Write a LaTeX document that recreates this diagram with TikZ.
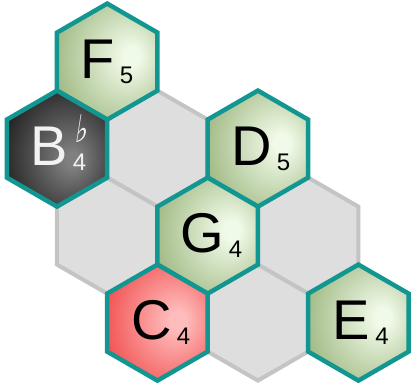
\documentclass[tikz,border=0pt]{standalone}
\usepackage{fontspec}
\setmainfont{Liberation Sans}
\newfontfamily\flatfont[FakeSlant=0.22]{DejaVu Sans}
\usetikzlibrary{shapes.geometric}
\definecolor{tealline}{RGB}{18,150,145}
\definecolor{grayfill}{RGB}{222,222,222}
\definecolor{grayline}{RGB}{196,196,196}
\definecolor{gin}{RGB}{240,250,232}
\definecolor{gout}{RGB}{164,188,136}
\definecolor{din}{RGB}{128,128,128}
\definecolor{dout}{RGB}{34,34,34}
\definecolor{rin}{RGB}{255,188,188}
\definecolor{rout}{RGB}{242,84,84}
\definecolor{lettw}{RGB}{242,242,242}
\pgfdeclareradialshading{greenshade}{\pgfpoint{13bp}{2.5bp}}{color(0bp)=(gin);color(4bp)=(gin);color(32bp)=(gout);color(60bp)=(gout)}
\pgfdeclareradialshading{darkshade}{\pgfpoint{8bp}{-5bp}}{color(0bp)=(din);color(3bp)=(din);color(32bp)=(dout);color(60bp)=(dout)}
\pgfdeclareradialshading{redshade}{\pgfpoint{11bp}{1bp}}{color(0bp)=(rin);color(4bp)=(rin);color(32bp)=(rout);color(60bp)=(rout)}
\newcommand\hexsub[1]{\kern5pt\raisebox{-5pt}{\fontsize{24}{24}\selectfont #1}}
\tikzset{
  hexbase/.style={regular polygon, regular polygon sides=6, shape border rotate=30,
    minimum size=116pt, inner sep=0pt, outer sep=0pt},
  grayhex/.style={hexbase, draw=grayline, fill=grayfill, line width=4pt},
  notehex/.style={hexbase, draw=tealline, line width=4.5pt},
  greenhex/.style={notehex, shading=greenshade},
  darkhex/.style={notehex, shading=darkshade},
  redhex/.style={notehex, shading=redshade},
  notetext/.style={anchor=base west, inner sep=0pt, outer sep=0pt,
    font=\fontsize{56}{56}\selectfont},
}
\begin{document}
\begin{tikzpicture}[x=1pt,y=-1pt]
\useasboundingbox (0,0) rectangle (411,387);
% empty grid cells
\node[grayhex] (g1) at (157.4,148.6) {};
\node[grayhex] (g2) at (107.2,235.6) {};
\node[grayhex] (g3) at (308.1,235.6) {};
\node[grayhex] (g4) at (257.9,322.6) {};
% note cells
\node[greenhex] (F5) at (107.2,61.6) {};
\node[darkhex]  (Bb4) at (57.0,148.6) {};
\node[greenhex] (D5) at (257.9,148.6) {};
\node[greenhex] (G4) at (207.7,235.6) {};
\node[redhex]   (C4) at (157.4,322.6) {};
\node[greenhex] (E4) at (358.4,322.6) {};
% labels
\node[notetext] (F5t) at ([shift={(-26.5,17)}]F5.center) {F\hexsub{5}};
\node[notetext, text=lettw] (Bb4t) at ([shift={(-26.5,17)}]Bb4.center)
  {B\kern5pt\rlap{\kern2pt\raisebox{23pt}{\scalebox{0.7}[1]{\flatfont\fontsize{38}{38}\selectfont ♭}}}\raisebox{-5pt}{\fontsize{24}{24}\selectfont 4}};
\node[notetext] (D5t) at ([shift={(-26.5,17)}]D5.center) {D\hexsub{5}};
\node[notetext] (G4t) at ([shift={(-27.5,17)}]G4.center) {G\hexsub{4}};
\node[notetext] (C4t) at ([shift={(-26,17)}]C4.center) {C\hexsub{4}};
\node[notetext] (E4t) at ([shift={(-25.5,17)}]E4.center) {E\hexsub{4}};
\end{tikzpicture}
\end{document}
